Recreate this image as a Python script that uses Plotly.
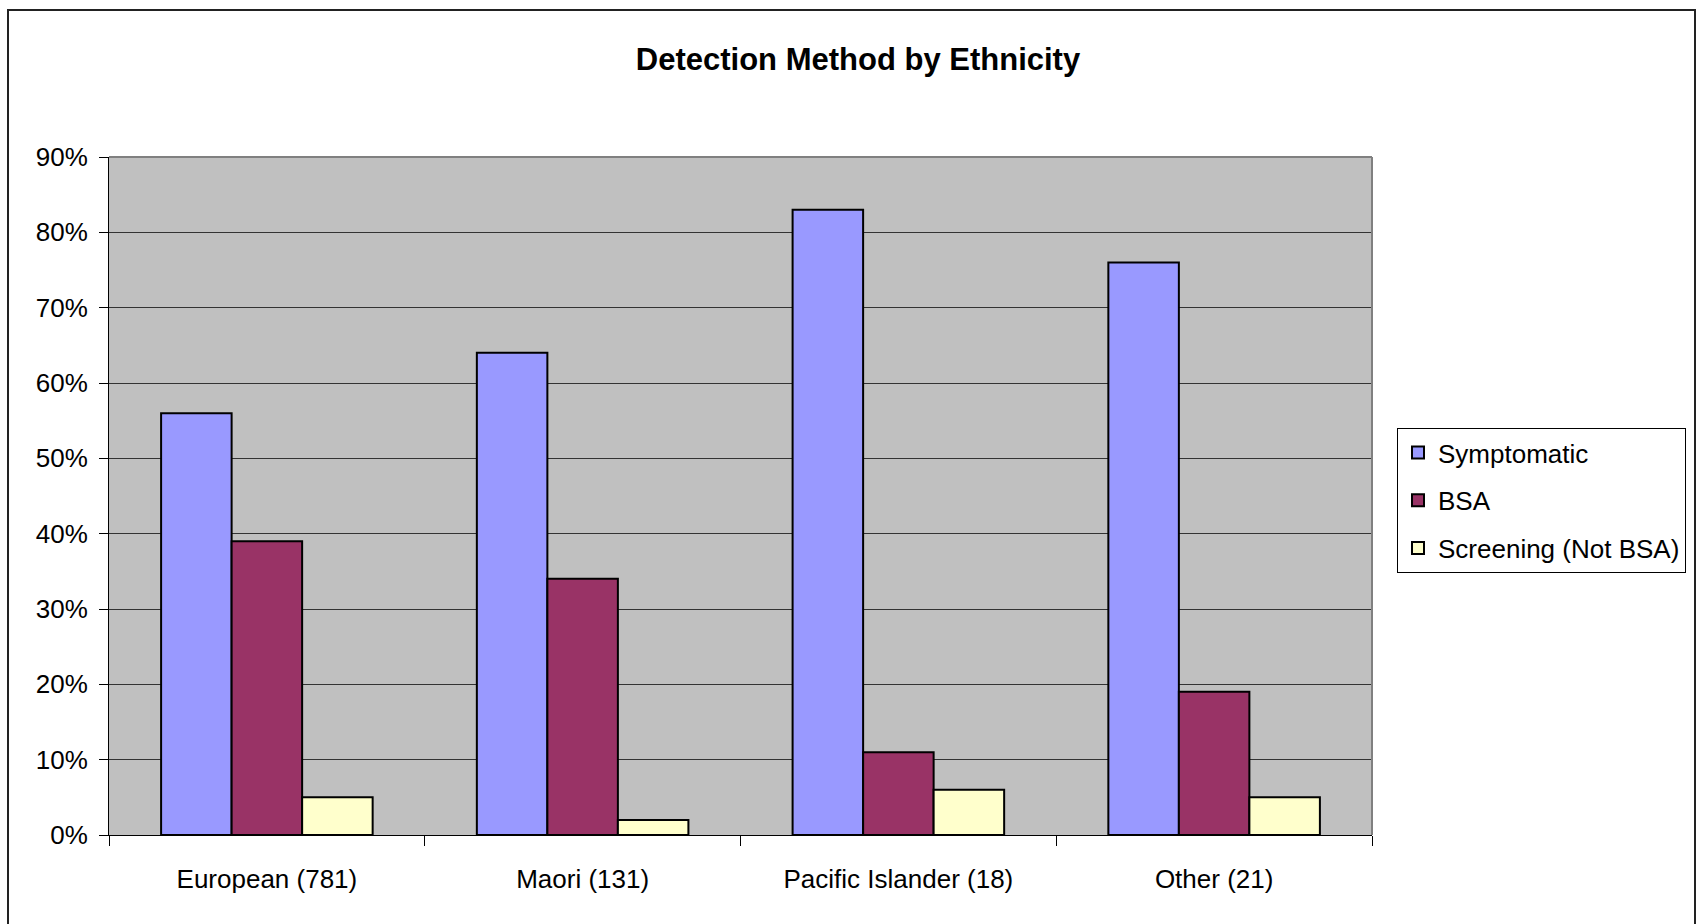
import plotly.graph_objects as go

# Detection method shares by ethnicity (fraction of cases)
categories = ["European (781)", "Maori (131)", "Pacific Islander (18)", "Other (21)"]
symptomatic = [0.56, 0.64, 0.83, 0.76]
bsa = [0.39, 0.34, 0.11, 0.19]
screening = [0.05, 0.02, 0.06, 0.05]
series_names = ["Symptomatic", "BSA", "Screening (Not BSA)"]
series_colors = ["#9999FF", "#993366", "#FFFFCC"]
y_ticks = [0, 0.1, 0.2, 0.3, 0.4, 0.5, 0.6, 0.7, 0.8, 0.9]

FONT = "Liberation Sans, Arial, sans-serif"

fig = go.Figure()
for name, vals, color in zip(series_names, [symptomatic, bsa, screening], series_colors):
    fig.add_trace(go.Bar(
        x=categories, y=vals, name=name, legendgroup=name,
        marker=dict(color=color, line=dict(color="black", width=2)),
    ))

W, H = 1696, 924
L, R, T, B = 109, 324, 157, 89
pw, ph = W - L - R, H - T - B

def px_x(x):
    return (x - L) / pw

def px_y(y):
    return (H - B - y) / ph

fig.update_layout(
    width=W, height=H,
    margin=dict(l=L, r=R, t=T, b=B, autoexpand=False),
    paper_bgcolor="white",
    plot_bgcolor="#C0C0C0",
    barmode="group",
    bargap=0.33,
    bargroupgap=0,
    font=dict(family=FONT, size=26, color="black"),
    title=dict(
        text="<b>Detection Method by Ethnicity</b>",
        x=858 / W, xref="container", xanchor="center",
        y=1 - 59 / H, yref="container", yanchor="middle",
        font=dict(family=FONT, size=31, color="black"),
    ),
    showlegend=True,
    legend=dict(
        x=px_x(1397), y=px_y(428), xanchor="left", yanchor="top",
        bgcolor="white", bordercolor="black", borderwidth=1,
        font=dict(family=FONT, size=26, color="black"),
        traceorder="grouped",
        tracegroupgap=11,
    ),
    xaxis=dict(
        type="category",
        showgrid=False,
        showline=True, linecolor="black", linewidth=1,
        ticks="outside", tickson="boundaries", ticklen=10,
        tickcolor="black", tickwidth=1,
        ticklabelstandoff=21,
        tickfont=dict(family=FONT, size=26, color="black"),
        fixedrange=True,
    ),
    yaxis=dict(
        range=[0, 0.9],
        tickvals=y_ticks,
        tickformat=".0%",
        showgrid=True, gridcolor="#333333", gridwidth=1,
        zeroline=False,
        showline=True, linecolor="black", linewidth=1,
        ticks="outside", ticklen=9, tickcolor="black", tickwidth=1,
        ticklabelstandoff=6,
        tickfont=dict(family=FONT, size=26, color="black"),
        fixedrange=True,
    ),
    shapes=[
        # grey top and right edges of the plotting area
        dict(type="line", xref="paper", yref="paper", x0=0, x1=1, y0=1, y1=1,
             line=dict(color="#808080", width=2), layer="above"),
        dict(type="line", xref="paper", yref="paper", x0=1, x1=1, y0=0, y1=1,
             line=dict(color="#808080", width=2), layer="above"),
        # outer chart frame
        dict(type="rect", xref="paper", yref="paper",
             x0=px_x(8), x1=px_x(1695), y0=px_y(935), y1=px_y(10),
             line=dict(color="#222222", width=2), layer="above"),
    ],
)

fig.write_html("out.html", config={"displayModeBar": False})
